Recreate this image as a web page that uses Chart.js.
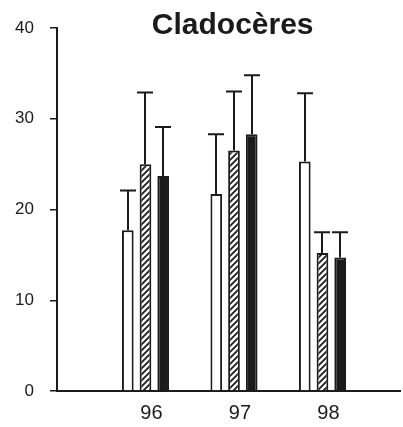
<!DOCTYPE html>
<html>
<head>
<meta charset="utf-8">
<script src="https://cdn.jsdelivr.net/npm/chart.js@4"></script>
<style>
  html, body { margin: 0; padding: 0; background: #fff; overflow: hidden; }
  #wrap { width: 403px; height: 427px; }
  #c { display: block; width: 403px; height: 427px; }
</style>
</head>
<body>
<div id="wrap"><canvas id="c" width="403" height="427"></canvas></div>
<script>
// Years sampled (x categories)
const years = [96, 97, 98];

// Mean values and standard deviations for the three treatments
const openMeans    = [17.7, 21.7, 25.3];
const openSD       = [4.4, 6.6, 7.5];
const hatchedMeans = [25.0, 26.5, 15.2];
const hatchedSD    = [7.9, 6.5, 2.3];
const solidMeans   = [23.7, 28.3, 14.7];
const solidSD      = [5.4, 6.5, 2.8];

// Y axis tick values
const yTicks = [0, 10, 20, 30, 40];

const INK = '#1b1b1b';
const FONT = "'Liberation Sans', Arial, Helvetica, sans-serif";

// Diagonal hatching fill
function makeHatch(ctx) {
  const s = 6;
  const c = document.createElement('canvas');
  c.width = s; c.height = s;
  const g = c.getContext('2d');
  g.fillStyle = '#fff';
  g.fillRect(0, 0, s, s);
  g.strokeStyle = INK;
  g.lineWidth = 1.8;
  g.beginPath();
  g.moveTo(-1, s + 1); g.lineTo(s + 1, -1);
  g.moveTo(-1, 1); g.lineTo(1, -1);
  g.moveTo(s - 1, s + 1); g.lineTo(s + 1, s - 1);
  g.stroke();
  return ctx.createPattern(c, 'repeat');
}

const canvas = document.getElementById('c');
const ctx = canvas.getContext('2d');

const toPoints = (vals) => years.map((yr, i) => ({ x: yr, y: vals[i] }));

// Upward-only error bars with caps
const errorBars = {
  id: 'errorBars',
  afterDatasetsDraw(chart) {
    const c = chart.ctx;
    const yScale = chart.scales.y;
    c.save();
    c.strokeStyle = INK;
    c.lineWidth = 2;
    chart.data.datasets.forEach((ds, di) => {
      const meta = chart.getDatasetMeta(di);
      meta.data.forEach((bar, i) => {
        const yTop = yScale.getPixelForValue(ds.data[i].y + ds.sd[i]);
        const x = Math.round(bar.x);
        c.beginPath();
        c.moveTo(x, bar.y);
        c.lineTo(x, yTop);
        c.moveTo(x - 8, yTop);
        c.lineTo(x + 8, yTop);
        c.stroke();
      });
    });
    c.restore();
  }
};

const common = {
  borderColor: INK,
  borderWidth: 2,
  categoryPercentage: 0.6,
  barPercentage: 0.66
};

new Chart(ctx, {
  type: 'bar',
  data: {
    datasets: [
      Object.assign({ label: 'Série 1', data: toPoints(openMeans), sd: openSD, backgroundColor: '#ffffff' }, common),
      Object.assign({ label: 'Série 2', data: toPoints(hatchedMeans), sd: hatchedSD, backgroundColor: makeHatch(ctx) }, common),
      Object.assign({ label: 'Série 3', data: toPoints(solidMeans), sd: solidSD, backgroundColor: INK }, common)
    ]
  },
  options: {
    responsive: false,
    animation: false,
    devicePixelRatio: 1,
    layout: { padding: { left: 0, right: 3, top: 0, bottom: 0 } },
    plugins: {
      legend: { display: false },
      tooltip: { enabled: false },
      title: {
        display: true,
        text: '\u00a0Cladocères',
        fullSize: false,
        color: INK,
        font: { family: FONT, size: 30, weight: 'bold' },
        padding: { top: 8, bottom: -16 }
      }
    },
    scales: {
      x: {
        type: 'linear',
        min: 95,
        max: 98.876,
        offset: false,
        afterBuildTicks: (s) => { s.ticks = years.map(v => ({ value: v })); },
        afterFit: (s) => { s.height = 36; },
        ticks: {
          color: INK,
          font: { family: FONT, size: 20 },
          padding: 10,
          labelOffset: 6,
          callback: (v) => String(v)
        },
        grid: { display: true, drawOnChartArea: false, drawTicks: false },
        border: { display: true, color: INK, width: 2 }
      },
      y: {
        min: 0,
        max: 40,
        afterBuildTicks: (s) => { s.ticks = yTicks.map(v => ({ value: v })); },
        afterFit: (s) => { s.width = 57; },
        ticks: {
          color: INK,
          font: { family: FONT, size: 17 },
          padding: 16
        },
        grid: { drawOnChartArea: false, drawTicks: true, tickLength: 7, color: INK, lineWidth: 1.5 },
        border: { display: true, color: INK, width: 2 }
      }
    }
  },
  plugins: [errorBars]
});
</script>
</body>
</html>
